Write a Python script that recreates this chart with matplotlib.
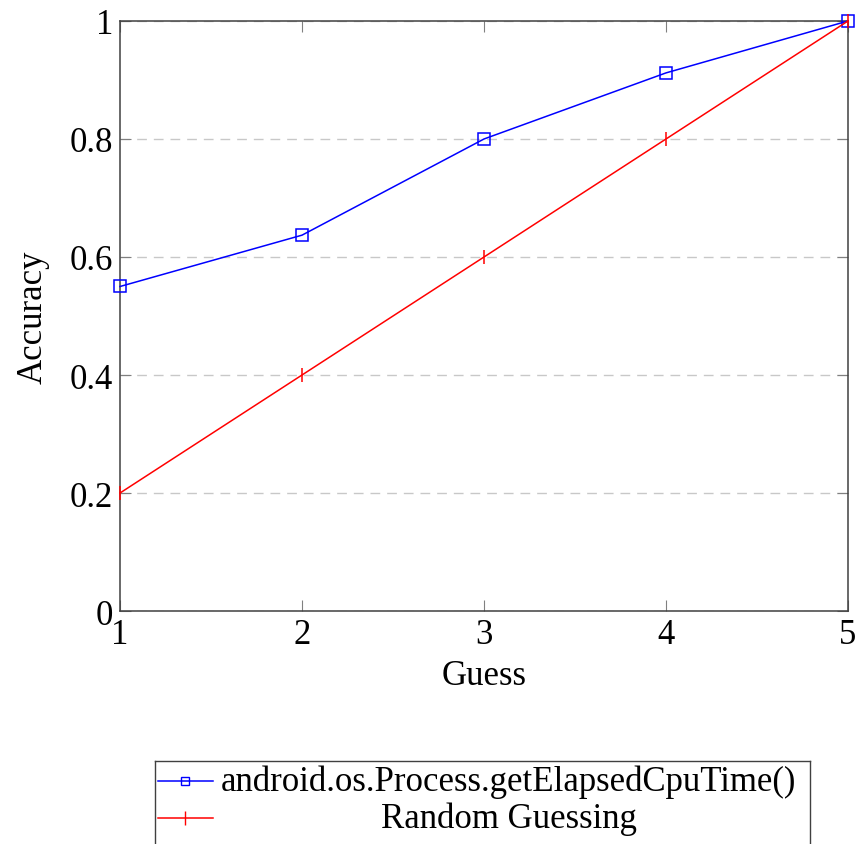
import matplotlib.pyplot as plt
from matplotlib.lines import Line2D

plt.rcParams['font.family'] = ['Liberation Serif', 'DejaVu Serif']

guesses = [1, 2, 3, 4, 5]
cpu_time_acc = [0.55, 0.637, 0.80, 0.912, 1.0]
random_acc = [0.2, 0.4, 0.6, 0.8, 1.0]
x_ticks = [1, 2, 3, 4, 5]
y_ticks = [0, 0.2, 0.4, 0.6, 0.8, 1.0]
y_tick_labels = ['0', '0.2', '0.4', '0.6', '0.8', '1']
cpu_label = 'android.os.Process.getElapsedCpuTime()'
random_label = 'Random Guessing'

fig = plt.figure(figsize=(8.59, 8.45), dpi=100)
ax = fig.add_axes([0.1397, 0.2757, 0.8475, 0.6983])

ax.plot(guesses, cpu_time_acc, color='blue', lw=1.1, marker='s', ms=8,
        mfc='none', mec='blue', mew=1.1, zorder=3, clip_on=False)
ax.plot(guesses, random_acc, color='red', lw=1.1, marker='|', ms=10,
        mew=1.1, zorder=3, clip_on=False)

ax.set_xlim(1, 5)
ax.set_ylim(0, 1)
ax.set_xticks(x_ticks)
ax.set_yticks(y_ticks)
ax.set_yticklabels(y_tick_labels)
ax.tick_params(direction='in', length=8, width=0.8, color='#808080',
               top=True, right=True, labelsize=25, pad=5)
ax.yaxis.grid(True, color='#c8c8c8', linestyle=(0, (7, 5)), lw=1.0)
for s in ax.spines.values():
    s.set_color('#404040')
    s.set_linewidth(1.1)

ax.set_xlabel('Guess', fontsize=25, labelpad=6)
ax.set_ylabel('Accuracy', fontsize=25, labelpad=14)

# legend drawn in its own box, entries centred like pgfplots
lax = fig.add_axes([0.1804, -0.02, 0.7625, 0.1182])
lax.set_xlim(0, 1)
lax.set_ylim(0, 1)
lax.set_xticks([])
lax.set_yticks([])
for s in lax.spines.values():
    s.set_color('#404040')
    s.set_linewidth(1.0)

rows = [(0.80, cpu_label, dict(color='blue', marker='s', ms=6, mfc='none', mec='blue')),
        (0.43, random_label, dict(color='red', marker='|', ms=10))]
for y, label, style in rows:
    lax.add_line(Line2D([0.005, 0.0465, 0.088], [y, y, y], lw=1.1,
                        markevery=[1], **style))
    lax.text(0.54, y, label, ha='center', va='center', fontsize=25)

fig.savefig('out.png', dpi=100)
